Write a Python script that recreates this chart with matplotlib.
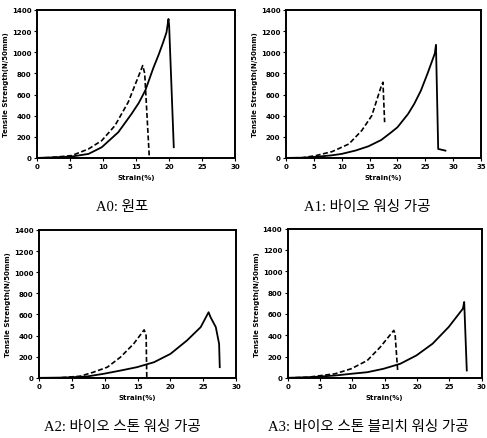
import matplotlib
matplotlib.use("Agg")
import matplotlib.pyplot as plt

# ---- data ----
a0_dash_x = [0, 2, 5.25, 7.8, 9.8, 11.8, 13.8, 15.4, 16.0, 16.3, 17.0]
a0_dash_y = [0, 3, 22, 85, 164, 306, 527, 779, 874, 800, 0]
a0_solid_x = [0, 2, 5.25, 7.8, 9.8, 12.3, 14.3, 15.4, 16.4, 17.6, 18.4, 19.1, 19.6, 19.9, 20.0, 20.7]
a0_solid_y = [0, 4, 13, 38, 101, 243, 416, 520, 640, 850, 975, 1095, 1189, 1315, 1250, 101]

a1_dash_x = [0, 3, 5.4, 8.3, 11.3, 13.6, 15.4, 17.1, 17.4, 17.7]
a1_dash_y = [0, 2, 22, 60, 132, 259, 400, 680, 716, 338]
a1_solid_x = [0, 3, 5.4, 8.3, 10.0, 12.5, 14.8, 17.1, 18.9, 20.0, 21.9, 23.0, 24.2,
              25.4, 26.5, 26.7, 26.9, 27.3, 28.6]
a1_solid_y = [0, 2, 10, 25, 38, 70, 110, 170, 243, 290, 416, 511, 637,
              800, 960, 990, 1070, 85, 69]

a2_dash_x = [0, 3, 6.3, 8.3, 10.4, 12.4, 14.4, 16.0, 16.3, 16.4]
a2_dash_y = [0, 0, 16, 54, 101, 196, 322, 454, 400, 0]
a2_solid_x = [0, 4, 7.3, 9.8, 12.4, 14.9, 17.5, 20.0, 22.5, 24.6, 25.8, 26.1, 26.9, 27.4, 27.5]
a2_solid_y = [0, 3, 13, 38, 69, 101, 148, 227, 353, 480, 621, 574, 480, 322, 101]

a3_dash_x = [0, 3, 7.3, 9.8, 12.3, 14.3, 16.4, 16.6, 17.0]
a3_dash_y = [0, 5, 38, 85, 163, 288, 445, 414, 69]
a3_solid_x = [0, 4, 7.3, 9.8, 12.3, 14.8, 17.4, 19.9, 22.4, 24.9, 26.5, 27.1, 27.3, 27.7]
a3_solid_y = [0, 8, 22, 38, 53, 85, 132, 210, 320, 477, 602, 649, 712, 69]

panels = [
    dict(dx=a0_dash_x, dy=a0_dash_y, sx=a0_solid_x, sy=a0_solid_y, xmax=30,
         xticks=[0, 5, 10, 15, 20, 25, 30], cap="A0: 원포",
         rect=[0.076, 0.638, 0.407, 0.337], capxy=(0.251, 0.512)),
    dict(dx=a1_dash_x, dy=a1_dash_y, sx=a1_solid_x, sy=a1_solid_y, xmax=35,
         xticks=[0, 5, 10, 15, 20, 25, 30, 35], cap="A1: 바이오 워싱 가공",
         rect=[0.587, 0.638, 0.401, 0.337], capxy=(0.754, 0.512)),
    dict(dx=a2_dash_x, dy=a2_dash_y, sx=a2_solid_x, sy=a2_solid_y, xmax=30,
         xticks=[0, 5, 10, 15, 20, 25, 30], cap="A2: 바이오 스톤 워싱 가공",
         rect=[0.080, 0.137, 0.405, 0.337], capxy=(0.251, 0.012)),
    dict(dx=a3_dash_x, dy=a3_dash_y, sx=a3_solid_x, sy=a3_solid_y, xmax=30,
         xticks=[0, 5, 10, 15, 20, 25, 30], cap="A3: 바이오 스톤 블리치 워싱 가공",
         rect=[0.591, 0.137, 0.398, 0.340], capxy=(0.757, 0.012)),
]

yticks = [0, 200, 400, 600, 800, 1000, 1200, 1400]

fig = plt.figure(figsize=(4.87, 4.39), dpi=100)
for p in panels:
    ax = fig.add_axes(p["rect"])
    ax.plot(p["sx"], p["sy"], color="black", lw=1.3, ls="-")
    ax.plot(p["dx"], p["dy"], color="black", lw=1.2, ls=(0, (3, 1.5)))
    ax.set_xlim(0, p["xmax"])
    ax.set_ylim(0, 1400)
    ax.set_xticks(p["xticks"])
    ax.set_yticks(yticks)
    ax.tick_params(labelsize=5, length=2.5, width=0.8, pad=1.5)
    for lab in ax.get_xticklabels() + ax.get_yticklabels():
        lab.set_fontweight("bold")
    for s in ax.spines.values():
        s.set_linewidth(1.4)
    ax.set_xlabel("Strain(%)", fontsize=5, fontweight="bold", labelpad=3)
    ax.set_ylabel("Tensile Strength(N/50mm)", fontsize=5, fontweight="bold", labelpad=2)
    fig.text(p["capxy"][0], p["capxy"][1], p["cap"], ha="center", va="bottom",
             fontsize=10.5, family=["Liberation Serif", "Noto Sans CJK KR"])

fig.savefig("out.png", dpi=100)
